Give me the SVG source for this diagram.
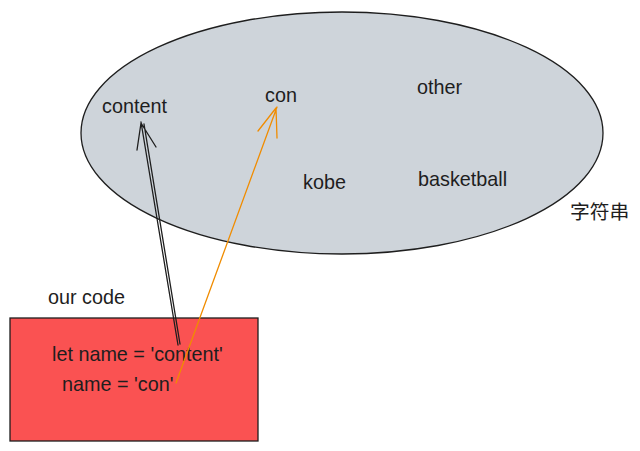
<svg xmlns="http://www.w3.org/2000/svg" width="640" height="451" viewBox="0 0 640 451">
<style>
text{font-family:"Liberation Sans",Arial,"Noto Sans CJK SC",sans-serif;font-size:19.8px;fill:#1e1e1e}
.s{fill:none;stroke-linecap:round;stroke-linejoin:round}
</style>
<rect width="640" height="451" fill="#ffffff"/>
<g id="strings">
<ellipse cx="342" cy="133" rx="261" ry="121" fill="#ced4da" stroke="#1e1e1e" stroke-width="1.3"/>
<text x="102" y="113">content</text>
<text x="265" y="102">con</text>
<text x="417" y="94">other</text>
<text x="303" y="189">kobe</text>
<text x="418" y="186">basketball</text>
<text x="570" y="219">字符串</text>
</g>
<g id="code">
<text x="48" y="304">our code</text>
<rect x="10" y="318" width="248" height="123" fill="#fa5252" stroke="#1e1e1e" stroke-width="1.3"/>
<text x="52" y="361">let name = 'content'</text>
<text x="62" y="391">name = 'con'</text>
</g>
<g id="connectors">
<path class="s" stroke="#1e1e1e" stroke-width="1.3" d="M178 345 L141 122 M137 150 L141 123 L156 147 M180 344 L144 124"/>
<path class="s" stroke="#f08c00" stroke-width="1.3" d="M176 383 L277 107 M258 131 L276 108 L277 138"/>
</g>
</svg>
